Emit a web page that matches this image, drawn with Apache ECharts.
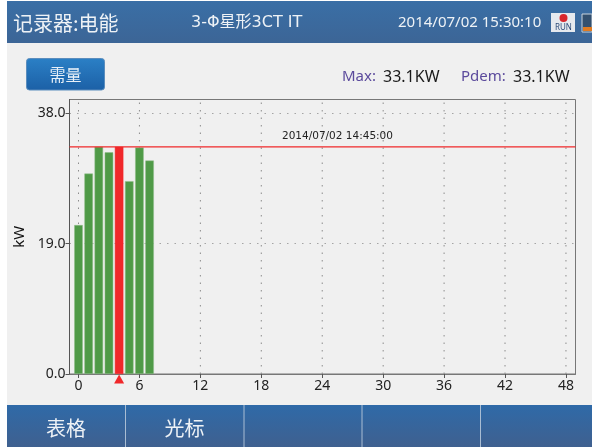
<!DOCTYPE html>
<html>
<head>
<meta charset="utf-8">
<title>记录器:电能</title>
<style>
    html, body { margin: 0; padding: 0; background: #fff; }
    #chart-container { width: 592px; height: 447px; }
</style>
<script src="https://cdn.jsdelivr.net/npm/echarts@6/dist/echarts.min.js"></script>
</head>
<body>
<div id="chart-container"></div>
<script>
// 读图得到的数据
const hours = [0, 1, 2, 3, 4, 5, 6, 7];
const power = [21.7, 29.2, 33.1, 32.3, 33.1, 28.1, 33.0, 31.1];
const xTicks = [0, 6, 12, 18, 24, 30, 36, 42, 48];
const yTicks = [0, 19, 38];
const cursorIndex = 4;
const maxPower = 33.1;
const cursorTime = '2014/07/02 14:45:00';
const softKeys = ['表格', '光标'];
const softKeyDividers = [125.5, 244, 362, 480.5];

const xMin = -0.886;
const xMax = 48.94;
const yMax = 40;

const cjk = '"Noto Sans CJK SC", "Noto Sans", sans-serif';
const latin = '"Noto Sans", "Liberation Sans", sans-serif';
const mixed = '"DejaVu Sans", "Noto Sans CJK SC", sans-serif';

const headerFill = {
    type: 'linear', x: 0, y: 0, x2: 0, y2: 1,
    colorStops: [{ offset: 0, color: '#3a6fa6' }, { offset: 1, color: '#3c6596' }],
};
const footerFill = {
    type: 'linear', x: 0, y: 0, x2: 0, y2: 1,
    colorStops: [{ offset: 0, color: '#2f6aa8' }, { offset: 1, color: '#3f608f' }],
};
const buttonFill = {
    type: 'linear', x: 0, y: 0, x2: 0, y2: 1,
    colorStops: [{ offset: 0, color: '#2b80c6' }, { offset: 1, color: '#1c60a6' }],
};

function label(text, x, y, size, fill, font, align) {
    return {
        type: 'text', z: 5, x, y,
        style: { text, fill, fontSize: size, fontFamily: font || latin, align: align || 'left', verticalAlign: 'middle' },
    };
}

function box(x, y, width, height, fill, extra) {
    return {
        type: 'rect', z: 1,
        shape: { x, y, width, height, r: (extra && extra.r) || 0 },
        style: { fill, stroke: (extra && extra.stroke) || null, lineWidth: 1 },
    };
}

// 仪器界面外框：标题栏、按钮、底部软键
const chrome = [
    box(7, 1, 585, 446, '#f0f0f0'),
    box(7, 1, 585, 42, headerFill),
    box(7, 405, 585, 42, footerFill),
    box(26.5, 58.5, 78, 31.5, buttonFill, { r: 3, stroke: '#5b8dbd' }),
    label('记录器:电能', 13, 23, 20, '#eef2f6', cjk),
    label('3-Φ星形3CT IT', 191, 23, 16, '#eef2f6', mixed),
    label('2014/07/02 15:30:10', 398, 23, 15, '#eef2f6'),
    label('需量', 65.5, 75, 16, '#e8f0f8', cjk, 'center'),
    label('Max:', 342, 77, 15, '#5b4a9c'),
    label('33.1KW', 383, 77, 16, '#1a1a1a'),
    label('Pdem:', 461, 77, 15, '#5b4a9c'),
    label('33.1KW', 513, 77, 16, '#1a1a1a'),
    // RUN 图标
    box(551, 13, 24, 19, '#e6e9ee'),
    { type: 'circle', z: 5, shape: { cx: 563.5, cy: 18, r: 4 }, style: { fill: '#d8252b' } },
    label('RUN', 563.5, 27.5, 8, '#2b4a78', latin, 'center'),
    // 电池图标
    box(582, 14, 10, 18, '#33506f', { stroke: '#c9d3dd' }),
    box(583, 27, 9, 4, '#e07b22'),
];
softKeys.forEach((key, i) => {
    chrome.push(label(key, softKeyDividers[i] - 59.5, 428, 20, '#eef2f6', cjk, 'center'));
});
softKeyDividers.forEach(x => {
    chrome.push({
        type: 'line', z: 5,
        shape: { x1: x, y1: 405, x2: x, y2: 447 },
        style: { stroke: '#a9bdd3', lineWidth: 1 },
    });
});
// 放到坐标系下面一层，否则底色会盖住坐标轴
chrome.forEach(el => { el.zlevel = -1; });

// 竖向网格线，用 '-' 断开每一段
const xGridPoints = [];
xTicks.forEach(t => {
    xGridPoints.push([t, 0], [t, yMax], [t, '-']);
});

const myChart = echarts.init(document.getElementById('chart-container'), null, { renderer: 'canvas' });

myChart.setOption({
    animation: false,
    backgroundColor: 'transparent',
    graphic: { elements: chrome },
    grid: {
        left: 69.5, right: 16.5, top: 99.5, bottom: 73,
        show: true, borderColor: '#777', borderWidth: 1,
    },
    xAxis: {
        type: 'value',
        min: xMin,
        max: xMax,
        axisLine: { onZero: false, lineStyle: { color: '#777' } },
        axisTick: { length: 4, lineStyle: { color: '#555' }, customValues: xTicks },
        axisLabel: { customValues: xTicks, color: '#222', fontSize: 14, fontFamily: latin, margin: 5 },
        splitLine: { show: false },
    },
    yAxis: {
        type: 'value',
        name: 'kW',
        nameLocation: 'middle',
        nameRotate: 90,
        nameGap: 38,
        nameTextStyle: { color: '#111', fontSize: 15, fontFamily: latin },
        min: 0,
        max: yMax,
        axisLine: { show: true, onZero: false, lineStyle: { color: '#555' } },
        axisTick: { show: true, length: 4, lineStyle: { color: '#555' }, customValues: yTicks },
        axisLabel: {
            customValues: yTicks, color: '#222', fontSize: 14, fontFamily: latin, margin: 4,
            formatter: value => value.toFixed(1),
        },
        splitLine: { show: true, lineStyle: { color: '#a5a5a5', type: [1.5, 6] } },
    },
    series: [
        {
            name: 'grid',
            type: 'line',
            silent: true,
            symbol: 'none',
            z: 1,
            lineStyle: { color: '#8c8c8c', width: 1, type: [1.5, 6] },
            data: xGridPoints,
        },
        {
            name: 'power',
            type: 'bar',
            barWidth: 8.5,
            z: 2,
            data: hours.map((h, i) => ({
                value: [h, power[i]],
                itemStyle: {
                    color: i === cursorIndex ? '#f0282a' : '#4f9a47',
                    borderColor: i === cursorIndex ? '#f0282a' : '#8fbd88',
                    borderWidth: 0.5,
                },
            })),
        },
        {
            // 最大需量线和时间标注
            name: 'max',
            type: 'line',
            silent: true,
            showSymbol: true,
            showAllSymbol: true,
            symbolSize: 0,
            z: 3,
            lineStyle: { color: '#f0282a', width: 1.4 },
            itemStyle: { color: '#f0282a' },
            data: [
                [xMin, maxPower],
                {
                    value: [25.5, maxPower],
                    label: {
                        show: true,
                        position: 'top',
                        distance: 5,
                        formatter: cursorTime,
                        color: '#222',
                        fontSize: 10.5,
                        fontFamily: mixed,
                    },
                },
                [xMax, maxPower],
            ],
        },
        {
            // 光标三角
            name: 'cursor',
            type: 'scatter',
            symbol: 'triangle',
            symbolSize: [10, 9],
            symbolOffset: [0, 5],
            clip: false,
            z: 6,
            itemStyle: { color: '#f0282a', opacity: 1 },
            data: [[hours[cursorIndex], 0]],
        },
    ],
});
</script>
</body>
</html>
